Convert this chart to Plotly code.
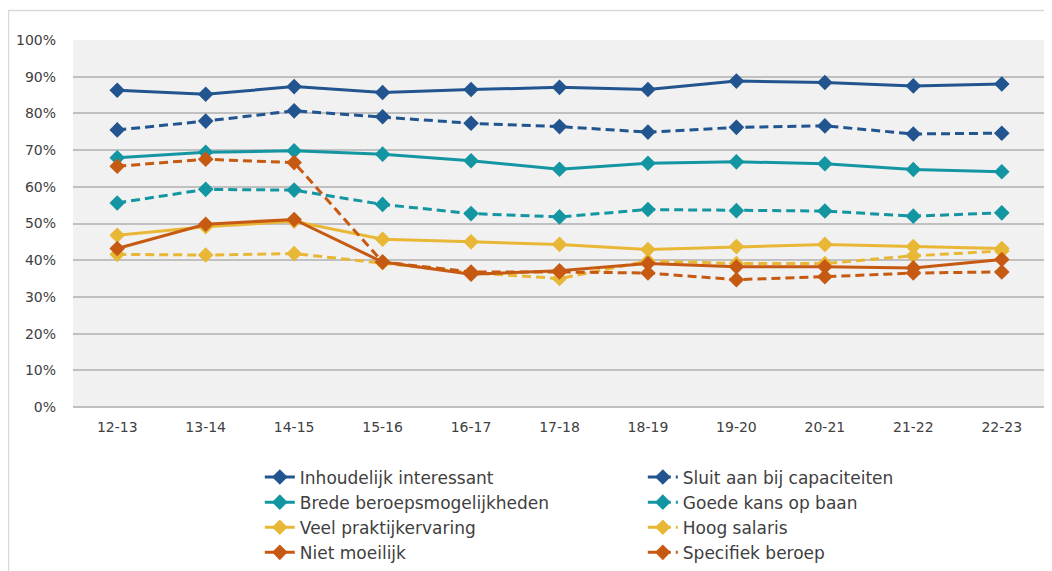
import plotly.graph_objects as go

years = ["12-13", "13-14", "14-15", "15-16", "16-17", "17-18", "18-19", "19-20", "20-21", "21-22", "22-23"]

inhoudelijk = [86.3, 85.2, 87.3, 85.7, 86.5, 87.1, 86.5, 88.8, 88.4, 87.5, 88.0]
sluit_aan = [75.5, 77.9, 80.7, 79.1, 77.3, 76.4, 74.9, 76.2, 76.6, 74.4, 74.6]
brede = [67.9, 69.4, 69.8, 68.9, 67.1, 64.8, 66.4, 66.8, 66.3, 64.7, 64.1]
goede_kans = [55.6, 59.3, 59.1, 55.2, 52.7, 51.8, 53.8, 53.5, 53.4, 52.0, 52.9]
veel_praktijk = [46.8, 49.1, 50.6, 45.7, 45.0, 44.3, 42.9, 43.7, 44.3, 43.7, 43.2]
hoog_salaris = [41.6, 41.4, 41.8, 39.3, 36.6, 35.0, 39.8, 39.1, 39.1, 41.2, 42.5]
niet_moeilijk = [43.2, 49.8, 51.1, 39.5, 36.2, 37.1, 39.1, 38.2, 38.2, 37.9, 40.2]
specifiek = [65.6, 67.5, 66.6, 39.5, 36.8, 36.8, 36.5, 34.7, 35.5, 36.5, 36.8]

BLUE = "#22548F"
TEAL = "#1396A2"
YELLOW = "#E8B736"
ORANGE = "#C65A12"

series = [
    ("Inhoudelijk interessant", inhoudelijk, BLUE, "solid"),
    ("Sluit aan bij capaciteiten", sluit_aan, BLUE, "9px,5px"),
    ("Brede beroepsmogelijkheden", brede, TEAL, "solid"),
    ("Goede kans op baan", goede_kans, TEAL, "9px,5px"),
    ("Veel praktijkervaring", veel_praktijk, YELLOW, "solid"),
    ("Hoog salaris", hoog_salaris, YELLOW, "9px,5px"),
    ("Niet moeilijk", niet_moeilijk, ORANGE, "solid"),
    ("Specifiek beroep", specifiek, ORANGE, "9px,5px"),
]

fig = go.Figure()
for name, vals, color, dash in series:
    fig.add_trace(go.Scatter(
        x=years, y=[v / 100 for v in vals], name=name, mode="lines+markers",
        line=dict(color=color, width=3, dash=dash),
        marker=dict(symbol="diamond", size=12, color=color),
    ))

FONT = "DejaVu Sans"
fig.update_layout(
    width=1044, height=571,
    margin=dict(l=65, r=6, t=32, b=172),
    paper_bgcolor="white",
    plot_bgcolor="#F1F1F1",
    font=dict(family=FONT, size=14, color="#404040"),
    showlegend=True,
    legend=dict(
        orientation="h", x=0.192, y=-0.143, xanchor="left", yanchor="top",
        entrywidth=338, entrywidthmode="pixels",
        font=dict(family=FONT, size=17, color="#404040"),
        itemwidth=30, tracegroupgap=0, traceorder="normal",
    ),
    xaxis=dict(
        range=[-0.5, 10.5],
        showgrid=False, showline=False, zeroline=False, ticks="",
        tickfont=dict(size=14, color="#404040"), ticklabelstandoff=10,
    ),
    yaxis=dict(
        range=[0, 1.0], tickformat=".0%", dtick=0.1, tick0=0,
        showgrid=True, gridcolor="#C0C0C0", gridwidth=1.5,
        zeroline=True, zerolinecolor="#C0C0C0", zerolinewidth=1.5,
        showline=False, ticks="",
        tickfont=dict(size=14, color="#404040"), ticklabelstandoff=16,
    ),
    shapes=[dict(
        type="rect", xref="paper", yref="paper",
        x0=-0.0663, x1=1.02, y0=-0.5, y1=1.0804,
        line=dict(color="#D9D9D9", width=1.5), fillcolor="rgba(0,0,0,0)", layer="below",
    )],
)

fig.write_html("out.html")
